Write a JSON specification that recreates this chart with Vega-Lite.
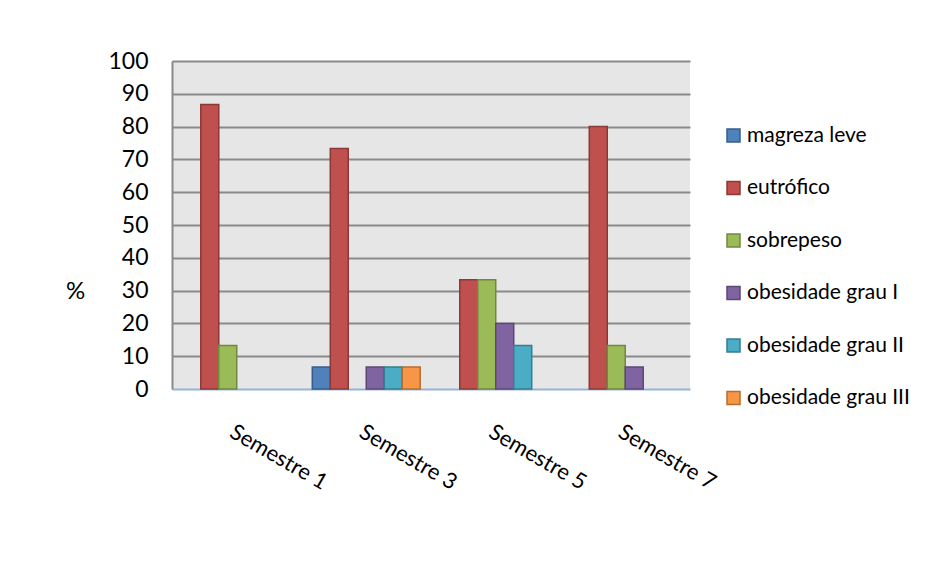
{
  "$schema": "https://vega.github.io/schema/vega-lite/v6.json",
  "width": 518,
  "height": 328,
  "autosize": {"type": "none"},
  "padding": {"left": 172, "top": 61, "right": 247, "bottom": 192},
  "background": "white",
  "config": {"view": {"fill": "#e6e6e6", "stroke": null}, "font": "Lato"},
  "data": {
    "values": [
      {"semestre": "Semestre 1", "categoria": "eutrófico", "valor": 86.7},
      {"semestre": "Semestre 1", "categoria": "sobrepeso", "valor": 13.3},
      {"semestre": "Semestre 3", "categoria": "magreza leve", "valor": 6.7},
      {"semestre": "Semestre 3", "categoria": "eutrófico", "valor": 73.3},
      {"semestre": "Semestre 3", "categoria": "obesidade grau I", "valor": 6.7},
      {"semestre": "Semestre 3", "categoria": "obesidade grau II", "valor": 6.7},
      {"semestre": "Semestre 3", "categoria": "obesidade grau III", "valor": 6.7},
      {"semestre": "Semestre 5", "categoria": "eutrófico", "valor": 33.3},
      {"semestre": "Semestre 5", "categoria": "sobrepeso", "valor": 33.3},
      {"semestre": "Semestre 5", "categoria": "obesidade grau I", "valor": 20},
      {"semestre": "Semestre 5", "categoria": "obesidade grau II", "valor": 13.3},
      {"semestre": "Semestre 7", "categoria": "eutrófico", "valor": 80},
      {"semestre": "Semestre 7", "categoria": "sobrepeso", "valor": 13.3},
      {"semestre": "Semestre 7", "categoria": "obesidade grau I", "valor": 6.7}
    ]
  },
  "mark": {"type": "bar", "strokeWidth": 1.5},
  "encoding": {
    "x": {
      "field": "semestre",
      "type": "nominal",
      "scale": {"paddingInner": 0, "paddingOuter": 0},
      "axis": {
        "title": null,
        "labelAngle": 30,
        "labelAlign": "left",
        "labelBaseline": "top",
        "labelFontSize": 22,
        "labelPadding": 32,
        "labelOffset": 0,
        "labelColor": "#000000",
        "ticks": false,
        "tickSize": 0,
        "grid": false,
        "domainColor": "#95b3d7",
        "domainWidth": 2
      }
    },
    "xOffset": {
      "field": "categoria",
      "type": "nominal",
      "scale": {
        "domain": ["magreza leve", "eutrófico", "sobrepeso", "obesidade grau I", "obesidade grau II", "obesidade grau III"],
        "paddingInner": 0,
        "paddingOuter": 0.6
      }
    },
    "y": {
      "field": "valor",
      "type": "quantitative",
      "scale": {"domain": [0, 100]},
      "axis": {
        "values": [0, 10, 20, 30, 40, 50, 60, 70, 80, 90, 100],
        "title": "%",
        "titleAngle": 0,
        "titleFontSize": 24,
        "titleFontWeight": "normal",
        "titleColor": "#000000",
        "titleX": -97,
        "titleY": 242,
        "labelFontSize": 23,
        "labelColor": "#000000",
        "labelPadding": 24,
        "ticks": false,
        "tickSize": 0,
        "grid": true,
        "gridColor": {"condition": {"test": "datum.value === 0", "value": "transparent"}, "value": "#8a8a8a"},
        "gridWidth": 2,
        "domainColor": "#8a8a8a",
        "domainWidth": 2
      }
    },
    "color": {
      "field": "categoria",
      "type": "nominal",
      "scale": {
        "domain": ["magreza leve", "eutrófico", "sobrepeso", "obesidade grau I", "obesidade grau II", "obesidade grau III"],
        "range": ["#4f81bd", "#c0504d", "#9bbb59", "#8064a2", "#4bacc6", "#f79646"]
      },
      "legend": {
        "title": null,
        "orient": "none",
        "legendX": 551,
        "legendY": 64,
        "padding": 0,
        "symbolType": "square",
        "symbolSize": 169,
        "symbolStrokeWidth": 1.5,
        "symbolOpacity": 1,
        "labelFontSize": 21,
        "labelLimit": 400,
        "labelColor": "#000000",
        "labelOffset": 3,
        "rowPadding": 30.5
      }
    },
    "stroke": {
      "field": "categoria",
      "type": "nominal",
      "scale": {
        "domain": ["magreza leve", "eutrófico", "sobrepeso", "obesidade grau I", "obesidade grau II", "obesidade grau III"],
        "range": ["#385d8a", "#8c3836", "#71893f", "#5c4776", "#357d91", "#b66d31"]
      },
      "legend": {
        "title": null,
        "orient": "none",
        "legendX": 551,
        "legendY": 64,
        "padding": 0,
        "symbolType": "square",
        "symbolSize": 169,
        "symbolStrokeWidth": 1.5,
        "symbolOpacity": 1,
        "labelFontSize": 21,
        "labelLimit": 400,
        "labelColor": "#000000",
        "labelOffset": 3,
        "rowPadding": 30.5
      }
    }
  }
}
